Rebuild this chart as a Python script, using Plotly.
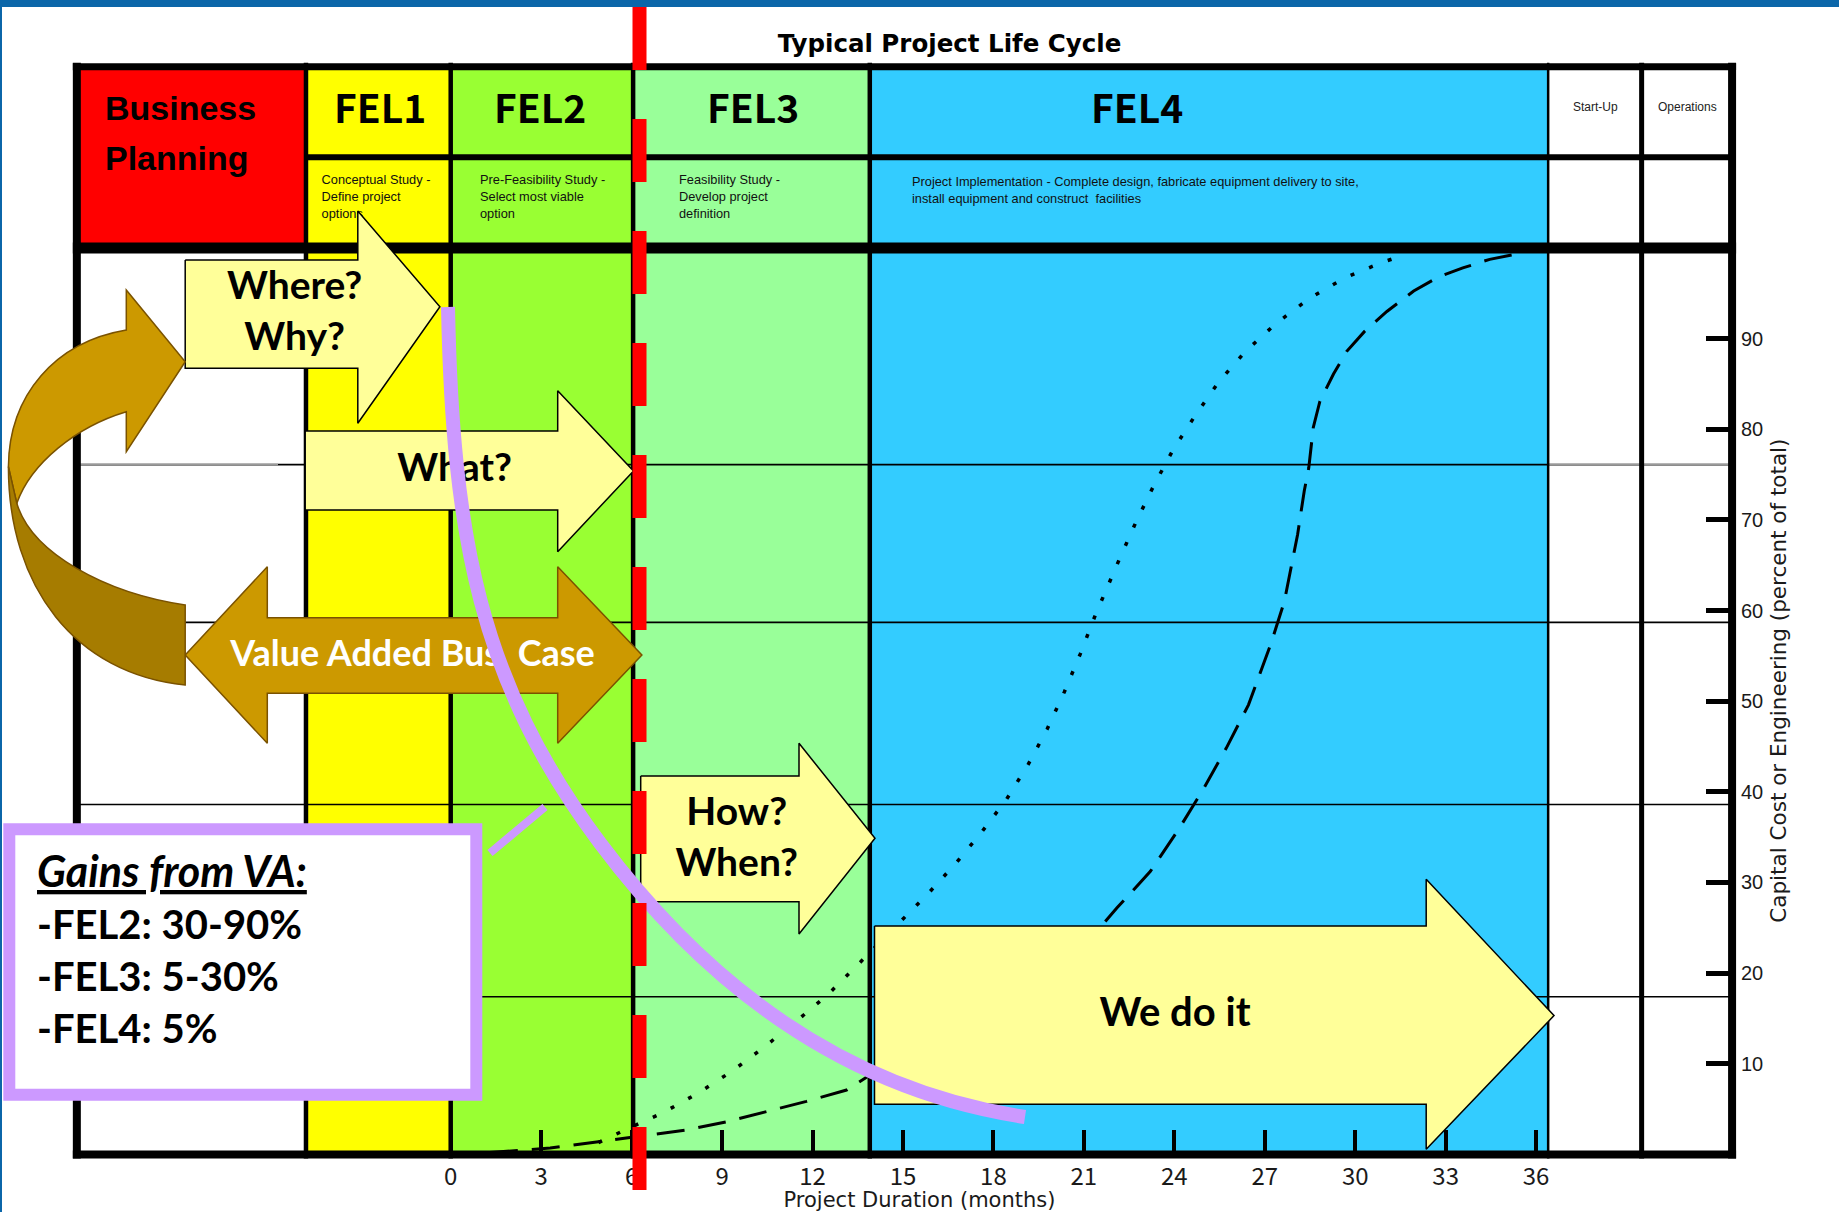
import plotly.graph_objects as go

W, H = 1839, 1212

# ------------------------------------------------------------------ data
phase_labels = ["Business<br>Planning", "FEL1", "FEL2", "FEL3", "FEL4", "Start-Up", "Operations"]
phase_descriptions = [
    "",
    "Conceptual Study -<br>Define project<br>options",
    "Pre-Feasibility Study -<br>Select most viable<br>option",
    "Feasibility Study -<br>Develop project<br>definition",
    "Project Implementation - Complete design, fabricate equipment delivery to site,<br>install equipment and construct  facilities",
    "",
    "",
]
phase_bounds_months = [-12.4, -4.8, 0.0, 6.05, 13.9, 36.4, 39.5, 42.5]
month_ticks = [0, 3, 6, 9, 12, 15, 18, 21, 24, 27, 30, 33, 36]
pct_ticks = [10, 20, 30, 40, 50, 60, 70, 80, 90]
body_row_lines_pct = [76.1, 58.7, 38.6, 17.4]
header_rows_pct = [100, 110, 120]

# dotted S-curve
engineering_months = [4.9, 5.78, 7.02, 8.21, 9.34, 10.42, 11.48, 12.5, 13.45, 14.9, 15.84, 16.75,
                      17.62, 18.44, 19.15, 19.78, 20.35, 20.88, 21.38, 22.17, 22.72, 23.32, 23.97,
                      24.69, 25.47, 26.36, 27.35, 28.46, 29.62, 30.88, 31.6]
engineering_pct = [1.3, 2.7, 4.56, 6.77, 9.2, 11.9, 14.75, 17.6, 20.75, 25.6, 28.8, 32.1,
                   35.6, 39.2, 43.0, 46.9, 51.0, 55.2, 59.5, 65.6, 69.7, 73.8, 77.8,
                   81.5, 85.2, 88.6, 91.6, 94.4, 96.65, 98.4, 99.2]
# dashed S-curve
capital_months = [1.3, 3.3, 4.9, 6.5, 7.83, 9.15, 10.48, 11.8, 13.13, 21.58, 22.1, 23.2, 24.17,
                  24.98, 25.72, 26.46, 27.2, 27.65, 28.09, 28.31, 28.46, 28.61, 28.83, 29.28,
                  29.72, 30.31, 31.05, 31.94, 32.76, 33.57, 34.46, 35.3]
capital_pct = [0.2, 0.7, 1.4, 2.1, 2.7, 3.6, 4.7, 5.85, 7.1, 25.2, 27.2, 31.2, 36.0,
               40.4, 44.8, 49.6, 56.3, 61.0, 68.4, 73.2, 75.75, 80.2, 83.1, 86.1,
               88.6, 90.8, 93.0, 95.25, 96.8, 97.8, 98.75, 99.3]

question_labels = ["Where?<br>Why?", "What?", "Value Added Bus  Case", "How?<br>When?", "We do it"]
gains_lines = ["<span style='font-size:43px'><i><u>Gains from VA:</u></i></span>",
               "-FEL2: 30-90%", "-FEL3: 5-30%", "-FEL4: 5%"]

chart_title = "Typical Project Life Cycle"
x_title = "Project Duration (months)"
y_title = "Capital Cost or Engineering (percent of total)"

# ------------------------------------------------------------------ styles / layout geometry
NARROW = "Noto Sans CJK SC, Liberation Sans Narrow, Liberation Sans, Arial"
SANS = "Liberation Sans, Arial, sans-serif"
WIDE = "DejaVu Sans, Liberation Sans, Arial"
HUMAN = "Lato, Open Sans, sans-serif"

body_colors = ["#ffffff", "#ffff00", "#99ff33", "#99ff99", "#33ccff", "#ffffff", "#ffffff"]
header_colors = ["#ff0000", "#ffff00", "#99ff33", "#99ff99", "#33ccff", "#ffffff", "#ffffff"]
column_line_widths = [8, 4.5, 4.5, 4.5, 4.5, 2.5, 5, 8]
ARROW_FILL = "#ffff99"
GOLD = "#cc9900"
GOLD_DARK = "#a67c00"
BROWN = "#7a5200"
PURPLE = "#cc99ff"
GRAY_LINE = "#9a9a9a"

# reference-pixel <-> data mapping
X_ZERO_PX, PX_PER_MONTH = 450.7, 30.15
Y_ZERO_PX, PX_PER_PCT = 1154.4, 9.064


def X(px):
    return (px - X_ZERO_PX) / PX_PER_MONTH


def Y(px):
    return (Y_ZERO_PX - px) / PX_PER_PCT


def PXp(px):
    return px / W


def PYp(px):
    return 1 - px / H


def path(cmds):
    out = []
    for c in cmds:
        if isinstance(c, str):
            out.append(c)
        else:
            out.append("%.4f,%.4f" % (X(c[0]), Y(c[1])))
    return " ".join(out)


shapes = []


def rect(x0, x1, y0, y1, fill, layer="below"):
    shapes.append(dict(type="rect", xref="x", yref="y", x0=x0, x1=x1, y0=y0, y1=y1,
                       fillcolor=fill, line=dict(width=0), layer=layer))


def hline(y, x0, x1, width, color="black"):
    shapes.append(dict(type="line", xref="x", yref="y", x0=x0, x1=x1, y0=y, y1=y,
                       line=dict(color=color, width=width), layer="below"))


def vline(x, y0, y1, width, color="black"):
    shapes.append(dict(type="line", xref="x", yref="y", x0=x, x1=x, y0=y0, y1=y1,
                       line=dict(color=color, width=width), layer="below"))


b = phase_bounds_months
# page decoration
shapes.append(dict(type="rect", xref="paper", yref="paper", x0=0, x1=1, y0=PYp(7), y1=1,
                   fillcolor="#0b66a9", line=dict(width=0), layer="below"))
shapes.append(dict(type="rect", xref="paper", yref="paper", x0=0, x1=PXp(2), y0=0, y1=1,
                   fillcolor="#0b66a9", line=dict(width=0), layer="below"))
# body + header fills
for i in range(7):
    rect(b[i], b[i + 1], 0, header_rows_pct[0], body_colors[i])
rect(b[0], b[1], header_rows_pct[0], header_rows_pct[2], header_colors[0])
for i in range(1, 7):
    rect(b[i], b[i + 1], header_rows_pct[0], header_rows_pct[2], header_colors[i])
# thin table lines in the body
for p in body_row_lines_pct:
    hline(p, b[0], b[7], 1.6)
hline(body_row_lines_pct[0], b[0], X(278), 1.6, GRAY_LINE)
hline(body_row_lines_pct[0], b[5], b[7], 1.6, GRAY_LINE)
# vertical column lines
ext = 4 / PX_PER_PCT
for i in range(8):
    vline(b[i], -ext, header_rows_pct[2] + ext, column_line_widths[i])
xe = 4 / PX_PER_MONTH
hline(header_rows_pct[2], b[0] - xe, b[7] + xe, 7)
hline(header_rows_pct[1], b[1], b[7], 6)
hline(header_rows_pct[0], b[0] - xe, b[7] + xe, 11)
hline(0, b[0] - xe, b[7] + xe, 8)

# ---- shapes drawn above traces
# curved gold arrow (light upper part with head, darker lower part)
shapes.append(dict(type="path", xref="x", yref="y", layer="above", fillcolor=GOLD,
                   line=dict(color=BROWN, width=1.5),
                   path=path(["M", (126.3, 290), "L", (185.2, 361.7), "L", (126.3, 451.7), "L", (126.3, 411.7),
                              "C", (76.3, 426.7), (30.8, 463.3), (16.8, 503.3),
                              "L", (8.4, 466.7),
                              "C", (9, 395), (55, 342), (126.3, 330), "Z"])))
shapes.append(dict(type="path", xref="x", yref="y", layer="above", fillcolor=GOLD_DARK,
                   line=dict(color=BROWN, width=1.5),
                   path=path(["M", (8.4, 466.7), "C", (8.4, 586.7), (75.2, 674), (185.2, 685),
                              "L", (185.2, 605),
                              "C", (105.2, 593), (31.8, 553.3), (16.8, 503.3), "Z"])))
# purple curve + connector
shapes.append(dict(type="path", xref="x", yref="y", layer="above",
                   line=dict(color=PURPLE, width=14),
                   path=path(["M", (448, 307), "C", (452.6, 537), (480, 683), (600, 843),
                              "C", (690, 963), (825, 1087), (1025, 1117)])))
shapes.append(dict(type="line", xref="x", yref="y", layer="above",
                   x0=X(490), y0=Y(853), x1=X(545), y1=Y(807), line=dict(color=PURPLE, width=8)))
# gains box
shapes.append(dict(type="rect", xref="x", yref="y", layer="above",
                   x0=X(9.3), x1=X(476.3), y0=Y(1094.7), y1=Y(829.3), fillcolor="white",
                   line=dict(color=PURPLE, width=12)))
# red dashed marker line
shapes.append(dict(type="line", xref="x", yref="y", layer="above",
                   x0=X(639.5), x1=X(639.5), y0=Y(7), y1=Y(1191),
                   line=dict(color="#ff0000", width=14, dash="63px,49px")))

# ------------------------------------------------------------------ traces
traces = []
desc_pos_px = [None, (321.6, 197.8), (480, 197.8), (679, 197.8), (912, 191), None, None]
for d, pos in zip(phase_descriptions, desc_pos_px):
    if not d:
        continue
    traces.append(go.Scatter(x=[X(pos[0])], y=[Y(pos[1])], mode="text", text=[d],
                             textposition="middle right",
                             textfont=dict(family=SANS, size=12.8, color="#111111"),
                             showlegend=False, hoverinfo="skip"))

traces.append(go.Scatter(x=engineering_months, y=engineering_pct, mode="lines",
                         line=dict(color="black", width=3.5, dash="4px,16px"),
                         showlegend=False, hoverinfo="skip"))
traces.append(go.Scatter(x=capital_months, y=capital_pct, mode="lines",
                         line=dict(color="black", width=3, dash="28px,14px"),
                         showlegend=False, hoverinfo="skip"))

arrow_polys = [
    ([(185.2, 260), (357.8, 260), (357.8, 211), (439.9, 306.7), (357.8, 423.3), (357.8, 368.3), (185.2, 368.3)], ARROW_FILL, "black"),
    ([(305.2, 431), (557.7, 431), (557.7, 390.7), (633.5, 471), (557.7, 551.7), (557.7, 510), (305.2, 510)], ARROW_FILL, "black"),
    ([(185.2, 655), (267.3, 566.7), (267.3, 617.7), (557.7, 617.7), (557.7, 566.7), (641.9, 655),
      (557.7, 743.3), (557.7, 693.3), (267.3, 693.3), (267.3, 743.3)], GOLD, BROWN),
    ([(640.7, 776), (799, 776), (799, 743.3), (875, 838.3), (799, 934), (799, 901.7), (640.7, 901.7)], ARROW_FILL, "black"),
    ([(874.5, 926), (1426.2, 926), (1426.2, 879.3), (1554, 1015.6), (1426.2, 1149.3), (1426.2, 1104.3), (874.5, 1104.3)], ARROW_FILL, "black"),
]
for pts, fill, edge in arrow_polys:
    xs = [X(p[0]) for p in pts] + [X(pts[0][0])]
    ys = [Y(p[1]) for p in pts] + [Y(pts[0][1])]
    traces.append(go.Scatter(x=xs, y=ys, mode="lines", fill="toself", fillcolor=fill,
                             line=dict(color=edge, width=1.5), showlegend=False, hoverinfo="skip"))

label_pos_px = [(294.6, 315), (454.6, 471.7), (412.5, 656.7), (736.7, 841), (1175, 1016)]
label_sizes = [39, 39, 36, 39, 40]
label_colors = ["black", "black", "white", "black", "black"]
for t, pos, s, c in zip(question_labels, label_pos_px, label_sizes, label_colors):
    traces.append(go.Scatter(x=[X(pos[0])], y=[Y(pos[1])], mode="text", text=["<b>%s</b>" % t],
                             textposition="middle center",
                             textfont=dict(family=HUMAN, size=s, color=c),
                             showlegend=False, hoverinfo="skip"))

# empty trace that carries the percent axis (right side)
traces.append(go.Scatter(x=[None], y=[None], yaxis="y2", showlegend=False, hoverinfo="skip"))

fig = go.Figure(data=traces)

# ------------------------------------------------------------------ annotations
ann = []
for line, ypx in zip(phase_labels[0].split("<br>"), (108, 158)):
    ann.append(dict(x=PXp(102.7), y=PYp(ypx), xref="paper", yref="paper", xanchor="left", yanchor="middle",
                    align="left", showarrow=False, text="<b>%s</b>" % line,
                    font=dict(family=SANS, size=34, color="black")))
name_pos_px = [None, 380, 540, 753, 1137]
for i in range(1, 5):
    ann.append(dict(x=PXp(name_pos_px[i]), y=PYp(106.5), xref="paper", yref="paper",
                    xanchor="center", yanchor="middle", showarrow=False,
                    text="<b>%s</b>" % phase_labels[i], font=dict(family=NARROW, size=39, color="black")))
for i, cx in ((5, 1595), (6, 1687)):
    ann.append(dict(x=PXp(cx), y=PYp(107), xref="paper", yref="paper", xanchor="center", yanchor="middle",
                    showarrow=False, text=phase_labels[i], font=dict(family=SANS, size=12, color="#222222")))
ann.append(dict(x=PXp(35), y=PYp(948), xref="paper", yref="paper", xanchor="left", yanchor="middle",
                align="left", showarrow=False, text="<b>" + "<br>".join(gains_lines) + "</b>",
                font=dict(family=HUMAN, size=40, color="black")))

fig.update_layout(
    width=W, height=H, autosize=False,
    margin=dict(l=0, r=0, t=0, b=0, pad=0),
    paper_bgcolor="white", plot_bgcolor="rgba(0,0,0,0)",
    showlegend=False, hovermode=False,
    title=dict(text="<b>%s</b>" % chart_title, x=PXp(949.5), y=PYp(43), xanchor="center", yanchor="middle",
               xref="paper", yref="paper", font=dict(family=WIDE, size=24.5, color="black")),
    xaxis=dict(range=[X(0), X(W)], domain=[0, 1], anchor="free", position=PYp(1155.5),
               tickmode="array", tickvals=month_ticks, ticktext=[str(v) for v in month_ticks],
               ticks="inside", ticklen=26, tickwidth=4, tickcolor="black",
               showline=False, showgrid=False, zeroline=False, fixedrange=True,
               tickfont=dict(family=NARROW, size=24, color="#1a1a1a"), ticklabelstandoff=4,
               title=dict(text=x_title, font=dict(family=WIDE, size=21, color="#1a1a1a"), standoff=2)),
    yaxis=dict(range=[Y(H), Y(0)], domain=[0, 1], visible=False, fixedrange=True),
    yaxis2=dict(domain=[PYp(Y_ZERO_PX), PYp(206.8)], range=[0, Y(206.8)], anchor="free",
                position=PXp(1732), side="right",
                tickmode="array", tickvals=pct_ticks, ticktext=[str(v) for v in pct_ticks],
                ticks="inside", ticklen=26, tickwidth=5, tickcolor="black",
                showline=False, showgrid=False, zeroline=False, fixedrange=True,
                tickfont=dict(family=SANS, size=20, color="#1a1a1a"), ticklabelstandoff=8,
                title=dict(text=y_title, font=dict(family=WIDE, size=21.5, color="#1a1a1a"), standoff=8)),
    shapes=shapes,
    annotations=ann,
)

fig.write_html("out.html", config={"displayModeBar": False, "staticPlot": True})
